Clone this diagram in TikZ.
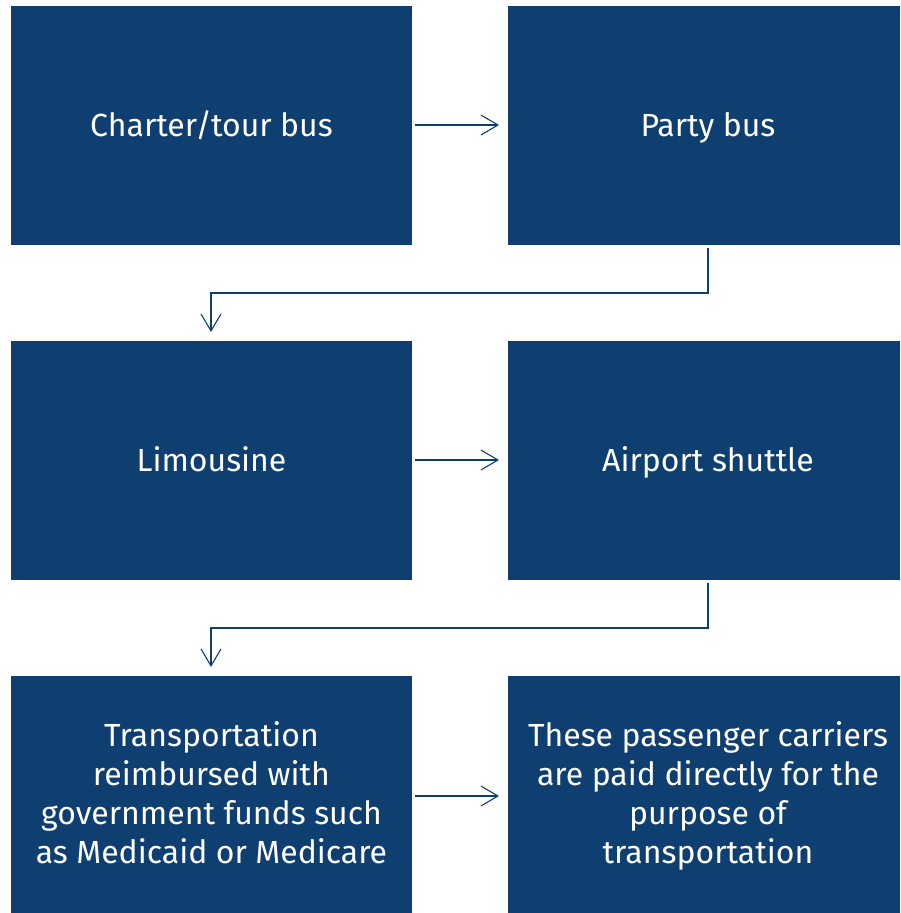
\documentclass[tikz,border=0pt]{standalone}
\usepackage{fontspec}
\setmainfont{Fira Sans}
\usetikzlibrary{arrows.meta,calc}
\definecolor{navy}{HTML}{0F3E71}
\tikzset{
  label/.style={text=white, inner sep=0pt, align=center, font=\fontsize{32}{39}\selectfont},
  conn/.style={draw=navy, line width=1.1pt, -{Straight Barb[length=17pt,width=20pt,line width=1.1pt]}}
}
\begin{document}
\begin{tikzpicture}[x=1pt,y=-1pt]
\useasboundingbox (0,0) rectangle (900,913);
\path[fill=navy] (11,6) rectangle (412,245);
\node[label] (a) at (211.5,129) {\strut Charter/tour bus};
\path[fill=navy] (508,6) rectangle (900,245);
\node[label] (b) at (708,129) {\strut Party bus};
\path[fill=navy] (11,341) rectangle (412,580);
\node[label] (c) at (211.5,464) {\strut Limousine};
\path[fill=navy] (508,341) rectangle (900,580);
\node[label] (d) at (708,464) {\strut Airport shuttle};
\path[fill=navy] (11,676) rectangle (412,913);
\node[label] (e) at (211.5,797) {\strut Transportation\\reimbursed with\\government funds such\\as Medicaid or Medicare\strut};
\path[fill=navy] (508,676) rectangle (900,913);
\node[label] (f) at (708,797) {\strut These passenger carriers\\are paid directly for the\\purpose of\\transportation\strut};
\coordinate (a-e) at (415,125);
\coordinate (b-w) at (499,125);
\coordinate (c-e) at (415,460);
\coordinate (d-w) at (499,460);
\coordinate (e-e) at (415,796);
\coordinate (f-w) at (499,796);
\coordinate (b-s) at (708,248);
\coordinate (c-n) at (211,332);
\coordinate (d-s) at (708,583);
\coordinate (e-n) at (211,667);
\draw[conn] (a-e) -- (b-w);
\draw[conn] (c-e) -- (d-w);
\draw[conn] (e-e) -- (f-w);
\draw[conn] (b-s) -- (708,293) -- (211,293) -- (c-n);
\draw[conn] (d-s) -- (708,628) -- (211,628) -- (e-n);
\end{tikzpicture}
\end{document}
